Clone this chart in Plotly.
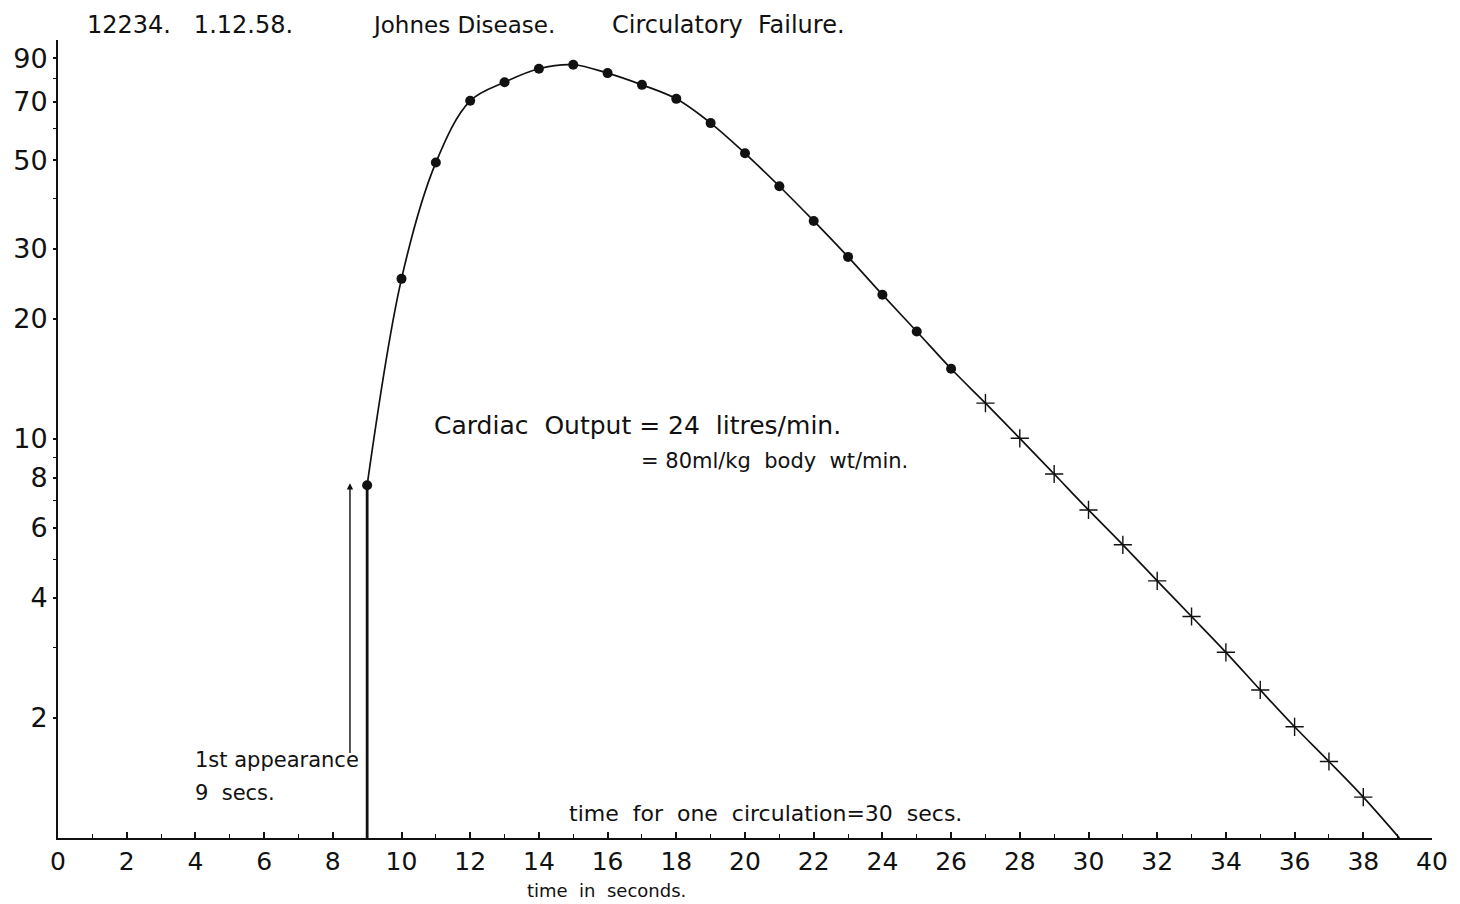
import math
import plotly.graph_objects as go

# ---- data ----
dot_t = [9, 10, 11, 12, 13, 14, 15, 16, 17, 18, 19, 20, 21, 22, 23, 24, 25, 26]
dot_c = [7.66, 25.2, 49.3, 70.4, 78.4, 84.7, 86.7, 82.6, 77.2, 71.2, 61.9, 52.0,
         43.0, 35.2, 28.6, 23.0, 18.6, 15.0]
cross_t = [27, 28, 29, 30, 31, 32, 33, 34, 35, 36, 37, 38]
cross_c = [12.3, 10.04, 8.17, 6.64, 5.43, 4.41, 3.59, 2.92, 2.35, 1.90, 1.555, 1.266]
end_t = [39.05]
end_c = [1.0]
first_t = [9, 9]
first_c = [1.0, 7.66]

x_ticks = list(range(0, 41, 2))
y_ticks = [2, 4, 6, 8, 10, 20, 30, 50, 70, 90]
y_minor = [3, 5, 7, 9, 40, 60, 80]

FONT = "DejaVu Sans"
INK = "#111111"

fig = go.Figure()

# vertical rise at first appearance
fig.add_trace(go.Scatter(x=first_t, y=first_c, mode="lines",
                         line=dict(color=INK, width=2.8), hoverinfo="skip",
                         showlegend=False))
# smooth curve through all points
fig.add_trace(go.Scatter(x=dot_t + cross_t + end_t, y=dot_c + cross_c + end_c,
                         mode="lines", line=dict(color=INK, width=1.7, shape="spline",
                                                 smoothing=1.0),
                         showlegend=False))
fig.add_trace(go.Scatter(x=dot_t, y=dot_c, mode="markers",
                         marker=dict(symbol="circle", size=10, color=INK),
                         showlegend=False))
fig.add_trace(go.Scatter(x=cross_t, y=cross_c, mode="markers",
                         marker=dict(symbol="cross-thin-open", size=13, color=INK,
                                     line=dict(color=INK, width=1.4)),
                         showlegend=False))


def L(v):
    return math.log10(v)


def txt(text, x, y, size, xref="x", yref="y", xanchor="left"):
    return dict(text=text, x=x, y=y, xref=xref, yref=yref, xanchor=xanchor,
                yanchor="middle", showarrow=False,
                font=dict(family=FONT, size=size, color=INK))


ann = [
    txt("12234.   1.12.58.", 0.78, 1.019, 24, yref="paper"),
    txt("Johnes Disease.", 9.07, 1.019, 23, yref="paper"),
    txt("Circulatory  Failure.", 16.07, 1.019, 24, yref="paper"),
    txt("Cardiac  Output = 24  litres/min.", 10.9, L(10.8), 25),
    txt("= 80ml/kg  body  wt/min.", 16.9, L(8.8), 21),
    txt("1st appearance", 3.92, L(1.57), 21),
    txt("9  secs.", 3.92, L(1.30), 21),
    txt("time  for  one  circulation=30  secs.", 14.83, L(1.155), 22),
    txt("time  in  seconds.", 15.96, -0.066, 18, yref="paper", xanchor="center"),
    dict(text="", x=8.5, y=L(7.75), ax=8.5, ay=L(1.62), xref="x", yref="y",
         axref="x", ayref="y", showarrow=True, arrowhead=2, arrowsize=0.9,
         arrowwidth=1.4, arrowcolor=INK),
]

fig.update_layout(
    width=1460, height=904,
    margin=dict(l=58, r=25, t=40, b=66),
    paper_bgcolor="white", plot_bgcolor="white",
    font=dict(family=FONT, color=INK),
    annotations=ann,
    showlegend=False,
    xaxis=dict(range=[0, 40], showgrid=False, zeroline=False,
               showline=True, linecolor=INK, linewidth=2,
               tickmode="array", tickvals=x_ticks,
               ticktext=[str(v) for v in x_ticks],
               ticks="inside", ticklen=6, tickcolor=INK, tickwidth=1.5,
               tickfont=dict(family=FONT, size=25, color=INK),
               minor=dict(dtick=1, ticks="inside", ticklen=4, tickcolor=INK, tickwidth=1)),
    yaxis=dict(type="log", range=[0, 2], showgrid=False, zeroline=False,
               showline=True, linecolor=INK, linewidth=2,
               tickmode="array", tickvals=y_ticks,
               ticktext=[str(v) for v in y_ticks],
               ticks="outside", ticklen=3, tickcolor=INK, tickwidth=1.5,
               tickfont=dict(family=FONT, size=27, color=INK),
               minor=dict(tickmode="array", tickvals=y_minor, ticks="outside",
                          ticklen=3, tickcolor=INK, tickwidth=1)),
)

fig.write_html("out.html")
